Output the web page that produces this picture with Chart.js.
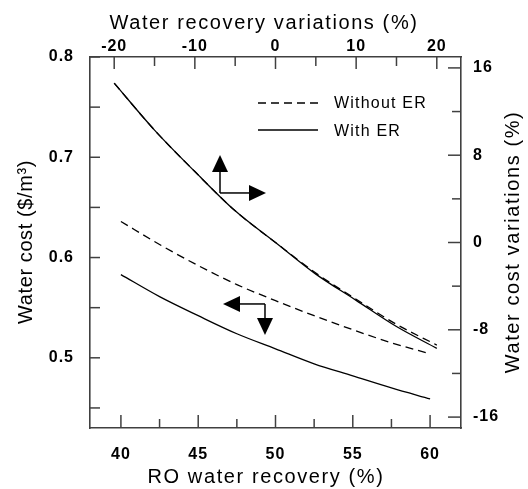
<!DOCTYPE html>
<html>
<head>
<meta charset="utf-8">
<script src="https://cdn.jsdelivr.net/npm/chart.js@4.4.0/dist/chart.umd.min.js"></script>
<style>
    html, body { margin: 0; padding: 0; background: #fff; }
    #contenedor { width: 528px; height: 489px; }
</style>
</head>
<body>
<div id="contenedor"><canvas id="grafico" width="528" height="489"></canvas></div>
<script>
// Eje inferior: RO water recovery (%)
const recuperacion = [40, 42.5, 45, 47.5, 50, 52.5, 55, 57.5, 60];
// Eje izquierdo: Water cost ($/m3)
const costoSinER = [0.636, 0.613, 0.592, 0.573, 0.557, 0.542, 0.528, 0.515, 0.504];
const costoConER = [0.583, 0.561, 0.542, 0.524, 0.509, 0.494, 0.482, 0.470, 0.459];
// Eje superior: Water recovery variations (%)
const variacionRecuperacion = [-20, -15, -10, -5, 0, 5, 10, 15, 20];
// Eje derecho: Water cost variations (%)
const variacionSinER = [14.6, 10.3, 6.5, 2.9, 0, -2.8, -5.2, -7.5, -9.4];
const variacionConER = [14.6, 10.3, 6.5, 2.9, 0, -2.9, -5.3, -7.7, -9.7];

// Marcas y etiquetas de cada eje
const ticksInferior = [40, 42.5, 45, 47.5, 50, 52.5, 55, 57.5, 60];
const etiquetasInferior = [40, 45, 50, 55, 60];
const ticksSuperior = [-20, -15, -10, -5, 0, 5, 10, 15, 20];
const etiquetasSuperior = [-20, -10, 0, 10, 20];
const ticksIzquierda = [0.45, 0.5, 0.55, 0.6, 0.65, 0.7, 0.75, 0.8];
const etiquetasIzquierda = [0.5, 0.6, 0.7, 0.8];
const ticksDerecha = [-16, -12, -8, -4, 0, 4, 8, 12, 16];
const etiquetasDerecha = [-16, -8, 0, 8, 16];

const fuente = '"Liberation Sans", Arial, sans-serif';
const grisEje = "#404040";

const puntos = (xs, ys) => xs.map((x, i) => ({ x: x, y: ys[i] }));

// Configuracion comun de cada eje
function escala(posicion, min, max, ticks, etiquetas, tamano, relleno) {
    const horizontal = posicion === "top" || posicion === "bottom";
    return {
        type: "linear",
        position: posicion,
        min: min,
        max: max,
        afterBuildTicks: (s) => { s.ticks = ticks.map((v) => ({ value: v })); },
        afterFit: (s) => {
            if (horizontal) s.height = tamano;
            else s.width = tamano;
        },
        grid: { display: false, drawTicks: false },
        border: { display: true, color: grisEje, width: 1.6 },
        ticks: {
            autoSkip: false,
            maxRotation: 0,
            padding: relleno,
            color: "#000",
            font: { family: fuente, size: 16, weight: "bold" },
            callback: (v) => (etiquetas.includes(v) ? String(v) : "")
        }
    };
}

function flecha(ctx, x0, y0, x1, y1) {
    const largoCabeza = 17, anchoCabeza = 16;
    const ang = Math.atan2(y1 - y0, x1 - x0);
    const bx = x1 - largoCabeza * Math.cos(ang);
    const by = y1 - largoCabeza * Math.sin(ang);
    ctx.beginPath();
    ctx.moveTo(x0, y0);
    ctx.lineTo(bx, by);
    ctx.stroke();
    ctx.beginPath();
    ctx.moveTo(x1, y1);
    ctx.lineTo(bx + (anchoCabeza / 2) * Math.sin(ang), by - (anchoCabeza / 2) * Math.cos(ang));
    ctx.lineTo(bx - (anchoCabeza / 2) * Math.sin(ang), by + (anchoCabeza / 2) * Math.cos(ang));
    ctx.closePath();
    ctx.fill();
}

function texto(ctx, str, x, y, rot, tam, espaciado, alinear) {
    ctx.save();
    ctx.translate(x, y);
    ctx.rotate(rot);
    ctx.font = tam + "px " + fuente;
    ctx.letterSpacing = espaciado + "px";
    ctx.fillStyle = "#000";
    ctx.textAlign = alinear || "center";
    ctx.textBaseline = "alphabetic";
    ctx.fillText(str, 0, 0);
    ctx.restore();
}

// Marcas hacia adentro, titulos, leyenda y flechas
const decoracion = {
    id: "decoracion",
    beforeDraw(chart) {
        chart.ctx.letterSpacing = "1px";
    },
    afterDraw(chart) {
        const ctx = chart.ctx;
        const a = chart.chartArea;
        const { x, x2, y, y2 } = chart.scales;
        ctx.save();
        ctx.letterSpacing = "0px";
        ctx.strokeStyle = grisEje;
        ctx.lineWidth = 1.5;
        const linea = (xa, ya, xb, yb) => {
            ctx.beginPath(); ctx.moveTo(xa, ya); ctx.lineTo(xb, yb); ctx.stroke();
        };
        ticksInferior.forEach((v) => {
            const p = x.getPixelForValue(v);
            linea(p, a.bottom, p, a.bottom - (etiquetasInferior.includes(v) ? 13 : 9));
        });
        ticksSuperior.forEach((v) => {
            const p = x2.getPixelForValue(v);
            linea(p, a.top, p, a.top + (etiquetasSuperior.includes(v) ? 12 : 9));
        });
        ticksIzquierda.forEach((v) => {
            const p = y.getPixelForValue(v);
            linea(a.left, p, a.left + 10, p);
        });
        ticksDerecha.forEach((v) => {
            const p = y2.getPixelForValue(v);
            linea(a.right, p, a.right - (etiquetasDerecha.includes(v) ? 13 : 9), p);
        });

        // Titulos de los ejes
        texto(ctx, "Water recovery variations (%)", 264, 29, 0, 20, 1.6);
        texto(ctx, "RO water recovery (%)", 266, 483, 0, 20, 1.6);
        texto(ctx, "Water cost ($/m\u00b3)", 32, 242, -Math.PI / 2, 20, 0.6);
        texto(ctx, "Water cost variations (%)", 519, 242, -Math.PI / 2, 20, 1.6);

        // Leyenda
        ctx.strokeStyle = "#000";
        ctx.lineWidth = 1.3;
        ctx.setLineDash([8, 5]);
        linea(a.left + 168, a.top + 46, a.left + 228, a.top + 46);
        ctx.setLineDash([]);
        linea(a.left + 168, a.top + 73, a.left + 228, a.top + 73);
        texto(ctx, "Without ER", a.left + 244, a.top + 51, 0, 16, 1.2, "left");
        texto(ctx, "With ER", a.left + 244, a.top + 79, 0, 16, 1.2, "left");

        // Flechas que indican el eje de cada par de curvas
        ctx.fillStyle = "#000";
        ctx.lineWidth = 1.5;
        const ax = x.getPixelForValue(46.41), ay = y.getPixelForValue(0.6644);
        flecha(ctx, ax, ay, ax, ay - 38);
        flecha(ctx, ax, ay, ax + 46, ay);
        const bx = x.getPixelForValue(49.32), by = y.getPixelForValue(0.5537);
        flecha(ctx, bx, by, bx - 42, by);
        flecha(ctx, bx, by, bx, by + 31);
        ctx.restore();
    }
};

const estiloLinea = {
    borderColor: "#000",
    borderWidth: 1.3,
    pointRadius: 0,
    fill: false,
    cubicInterpolationMode: "monotone"
};

new Chart(document.getElementById("grafico"), {
    type: "line",
    data: {
        datasets: [
            { ...estiloLinea, label: "Without ER", data: puntos(recuperacion, costoSinER), borderDash: [8, 5], xAxisID: "x", yAxisID: "y" },
            { ...estiloLinea, label: "With ER", data: puntos(recuperacion, costoConER), xAxisID: "x", yAxisID: "y" },
            { ...estiloLinea, label: "Without ER (%)", data: puntos(variacionRecuperacion, variacionSinER), borderDash: [8, 5], xAxisID: "x2", yAxisID: "y2" },
            { ...estiloLinea, label: "With ER (%)", data: puntos(variacionRecuperacion, variacionConER), xAxisID: "x2", yAxisID: "y2" }
        ]
    },
    options: {
        responsive: false,
        animation: false,
        layout: { padding: 0 },
        scales: {
            x: escala("bottom", 38, 62, ticksInferior, etiquetasInferior, 61, 17),
            x2: escala("top", -23, 23, ticksSuperior, etiquetasSuperior, 57, 1),
            y: escala("left", 0.43, 0.8, ticksIzquierda, etiquetasIzquierda, 90, 16),
            y2: escala("right", -17, 17, ticksDerecha, etiquetasDerecha, 67, 12)
        },
        plugins: {
            legend: { display: false },
            tooltip: { enabled: false }
        }
    },
    plugins: [decoracion]
});
</script>
</body>
</html>
